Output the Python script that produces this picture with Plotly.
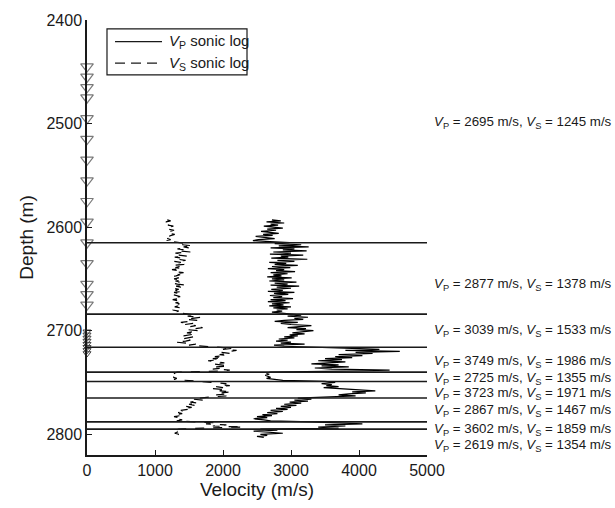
import plotly.graph_objects as go

# ---- sonic log samples (depth in m, velocity in m/s) ----
log_depth = [
    2593, 2594, 2595, 2596, 2597, 2598, 2599, 2600, 2601, 2602, 2603, 2604, 2605, 2606, 2607, 2608,
    2609, 2610, 2611, 2612, 2613, 2614, 2615, 2616, 2617, 2618, 2619, 2620, 2621, 2622, 2623, 2624,
    2625, 2626, 2627, 2628, 2629, 2630, 2631, 2632, 2633, 2634, 2635, 2636, 2637, 2638, 2639, 2640,
    2641, 2642, 2643, 2644, 2645, 2646, 2647, 2648, 2649, 2650, 2651, 2652, 2653, 2654, 2655, 2656,
    2657, 2658, 2659, 2660, 2661, 2662, 2663, 2664, 2665, 2666, 2667, 2668, 2669, 2670, 2671, 2672,
    2673, 2674, 2675, 2676, 2677, 2678, 2679, 2680, 2681, 2682, 2683, 2684, 2685, 2686, 2687, 2688,
    2689, 2690, 2691, 2692, 2693, 2694, 2695, 2696, 2697, 2698, 2699, 2700, 2701, 2702, 2703, 2704,
    2705, 2706, 2707, 2708, 2709, 2710, 2711, 2712, 2713, 2714, 2715, 2716, 2717, 2718, 2719, 2720,
    2721, 2722, 2723, 2724, 2725, 2726, 2727, 2728, 2729, 2730, 2731, 2732, 2733, 2734, 2735, 2736,
    2737, 2738, 2739, 2740, 2741, 2742, 2743, 2744, 2745, 2746, 2747, 2748, 2749, 2750, 2751, 2752,
    2753, 2754, 2755, 2756, 2757, 2758, 2759, 2760, 2761, 2762, 2763, 2764, 2765, 2766, 2767, 2768,
    2769, 2770, 2771, 2772, 2773, 2774, 2775, 2776, 2777, 2778, 2779, 2780, 2781, 2782, 2783, 2784,
    2785, 2786, 2787, 2788, 2789, 2790, 2791, 2792, 2793, 2794, 2795, 2796, 2797, 2798, 2799, 2800,
    2801, 2802, 2803,
]

vp_log = [
    2720, 2850, 2640, 2900, 2700, 2810, 2600, 2760, 2880, 2650, 2780, 2560, 2700, 2820, 2590, 2730,
    2480, 2650, 2760, 2520, 2440, 2690,
    2980, 2760, 3150, 2820, 3260, 2700, 3050, 2880, 3230, 2740, 3000, 2690, 3180, 2850, 2960, 2710,
    3240, 2800, 3050, 2680, 2930, 2760, 3100, 2720, 2990, 2660, 2900, 2780, 3060, 2700, 2950, 2740,
    2860, 2650, 3010, 2720, 2900, 2680, 3080, 2760, 2950, 2700, 3120, 2790, 3000, 2710, 2880, 2660,
    3050, 2750, 2960, 2690, 2870, 2740, 3030, 2700, 2920, 2660, 2980, 2720, 2890, 2680, 3000, 2740,
    2950, 2790, 2870, 2720, 2900,
    3000, 3150, 2950, 3250, 3050, 3180, 2900, 2760, 3100, 2850, 3000, 3300, 3120, 2950, 3220, 3080,
    3330, 3150, 3020, 3200, 2980, 3100, 2900, 3050, 2820, 2950, 2780, 3000, 2850, 3200, 2750, 2900,
    3600, 3900, 4300, 3800, 4600, 3950, 4200, 3700, 4050, 3650, 3900, 3500, 3750, 3400, 3800, 3550,
    3300, 3700, 3450, 3850, 3350, 3600, 4450, 3750,
    2700, 2640, 2680, 2620, 2660, 2700, 2640, 2780, 2880,
    3500, 3650, 3450, 3600, 3520, 3700, 3480, 3800, 4000, 4240, 3900, 4100, 3850, 3700, 3950, 3600,
    3100, 3300, 3050, 3250, 2980, 3150, 2900, 3080, 2850, 3000, 2780, 2950, 2700, 2880, 2650, 2800,
    2580, 2720, 2500, 2650, 2450, 2600, 2700,
    3300, 3650, 4050, 3500, 3800, 3400, 3700,
    2550, 2800, 2450, 2700, 2880, 2550, 2650, 2500, 2600,
]

vs_log = [
    1180, 1230, 1160, 1210, 1250, 1190, 1270, 1220, 1260, 1200, 1280, 1230, 1270, 1210, 1290, 1240,
    1200, 1260, 1180, 1230, 1160, 1250,
    1350, 1480, 1400, 1560, 1420, 1500, 1330, 1460, 1380, 1520, 1300, 1420, 1350, 1470, 1290, 1400,
    1330, 1450, 1280, 1380, 1320, 1430, 1260, 1360, 1300, 1400, 1250, 1350, 1300, 1420, 1280, 1370,
    1310, 1240, 1350, 1280, 1400, 1300, 1360, 1250, 1330, 1460, 1310, 1380, 1270, 1350, 1300, 1410,
    1280, 1340, 1250, 1320, 1370, 1290, 1350, 1260, 1330, 1400, 1300, 1360, 1270, 1340, 1290, 1380,
    1310, 1260, 1350, 1300, 1380,
    1520, 1600, 1480, 1680, 1550, 1450, 1620, 1500, 1380, 1560, 1440, 1600, 1520, 1700, 1580, 1480,
    1650, 1550, 1470, 1600, 1520, 1420, 1560, 1500, 1400, 1520, 1450, 1300, 1480, 1600, 1500, 1760,
    2050, 2150, 2000, 2200, 2080, 1980, 2120, 1950, 2050, 1880, 2000, 1850, 1950, 1780, 1900, 2020,
    1850, 1950, 2080, 1900, 2000, 1850, 2100, 1950,
    1330, 1280, 1310, 1260, 1300, 1270, 1320, 1280, 1500,
    1750, 1900, 2050, 1950, 2100, 1900, 2000, 1850, 2050, 1950, 2130, 1980, 2080, 1900, 2050, 1800,
    1650, 1550, 1700, 1600, 1520, 1640, 1500, 1580, 1450, 1540, 1420, 1480, 1380, 1450, 1340, 1400,
    1300, 1370, 1280, 1350, 1300, 1400, 1320,
    1600, 1900, 1750, 2050, 1850, 2300, 1700,
    1350, 1300, 1370, 1320, 1290, 1350, 1310, 1340, 1300,
]

# ---- layer boundaries picked from the logs (m) ----
boundary_depth = [2615, 2684, 2716, 2740, 2749, 2765, 2788, 2795]

# ---- layer averages and where their labels sit (m) ----
layer_label_depth = [2499.0, 2655.0, 2700.0, 2729.6, 2746.5, 2760.8, 2777.0, 2795.0, 2811.0]
layer_vp = [2695, 2877, 3039, 3749, 2725, 3723, 2867, 3602, 2619]
layer_vs = [1245, 1378, 1533, 1986, 1355, 1971, 1467, 1859, 1354]

# ---- borehole receiver depths (m) ----
receiver_depth = [2445, 2455, 2465, 2475, 2495, 2515, 2535, 2555, 2575, 2595,
                  2615, 2635, 2655, 2665, 2675]
dense_receiver_depth = [2701, 2704, 2707, 2710, 2713, 2716, 2719, 2722]

x_ticks = [0, 1000, 2000, 3000, 4000, 5000]
y_ticks = [2400, 2500, 2600, 2700, 2800]

legend_names = ["<i>V</i><sub>P</sub> sonic log", "<i>V</i><sub>S</sub> sonic log"]
legend_dash = ["solid", "10px,6px"]

FONT = "Liberation Sans, Arial, Helvetica, sans-serif"
INK = "#1a1a1a"

fig = go.Figure()

fig.add_trace(go.Scatter(
    x=vp_log, y=log_depth, mode="lines",
    line=dict(color="black", width=1.2),
    name=legend_names[0], showlegend=False,
))
fig.add_trace(go.Scatter(
    x=vs_log, y=log_depth, mode="lines",
    line=dict(color="black", width=1.2, dash="dash"),
    name=legend_names[1], showlegend=False,
))

fig.add_trace(go.Scatter(
    x=[0] * len(receiver_depth), y=receiver_depth, mode="markers",
    marker=dict(symbol="triangle-down-open", size=11, color="#7a7a7a",
                line=dict(width=1.2, color="#7a7a7a")),
    showlegend=False, cliponaxis=False, hoverinfo="skip",
))
fig.add_trace(go.Scatter(
    x=[0] * len(dense_receiver_depth), y=dense_receiver_depth, mode="markers",
    marker=dict(symbol="triangle-down-open", size=7, color="#444444",
                line=dict(width=1, color="#444444")),
    showlegend=False, cliponaxis=False, hoverinfo="skip",
))

for d in boundary_depth:
    fig.add_shape(type="line", xref="x", yref="y", x0=0, x1=5000, y0=d, y1=d,
                  line=dict(color=INK, width=1.6))

for d, vp, vs in zip(layer_label_depth, layer_vp, layer_vs):
    fig.add_annotation(
        xref="paper", yref="y", x=1.015, y=d, xanchor="left", yanchor="middle",
        text=f"<i>V</i><sub>P</sub> = {vp} m/s, <i>V</i><sub>S</sub> = {vs} m/s",
        showarrow=False, font=dict(family=FONT, size=13.3, color=INK),
    )

# legend box drawn in paper coordinates
fig.add_shape(type="rect", xref="paper", yref="paper",
              x0=0.0588, x1=0.4706, y0=0.8739, y1=0.9797,
              line=dict(color=INK, width=1.2), fillcolor="white", layer="above")
for name, dash, ly in zip(legend_names, legend_dash, [0.9505, 0.9009]):
    fig.add_shape(type="line", xref="paper", yref="paper",
                  x0=0.0824, x1=0.2206, y0=ly, y1=ly,
                  line=dict(color=INK, width=1.2, dash=dash), layer="above")
    fig.add_annotation(xref="paper", yref="paper", x=0.2353, y=ly,
                       xanchor="left", yanchor="middle", text=name, showarrow=False,
                       font=dict(family=FONT, size=15, color=INK))

fig.update_layout(
    width=615, height=508,
    margin=dict(l=87, r=188, t=16, b=48),
    paper_bgcolor="white", plot_bgcolor="white",
    font=dict(family=FONT, size=16, color=INK),
    showlegend=False,
    xaxis=dict(
        range=[0, 5000], tickvals=x_ticks, ticks="inside", ticklen=5,
        showline=True, linecolor=INK, linewidth=1.5,
        tickcolor=INK, showgrid=False, zeroline=False,
        title=dict(text="Velocity (m/s)", standoff=4),
    ),
    yaxis=dict(
        range=[2820, 2400], tickvals=y_ticks, ticks="inside", ticklen=5,
        showline=True, linecolor=INK, linewidth=1.5,
        tickcolor=INK, showgrid=False, zeroline=False,
        title=dict(text="Depth (m)", standoff=8),
    ),
)

fig.write_html("out.html")
